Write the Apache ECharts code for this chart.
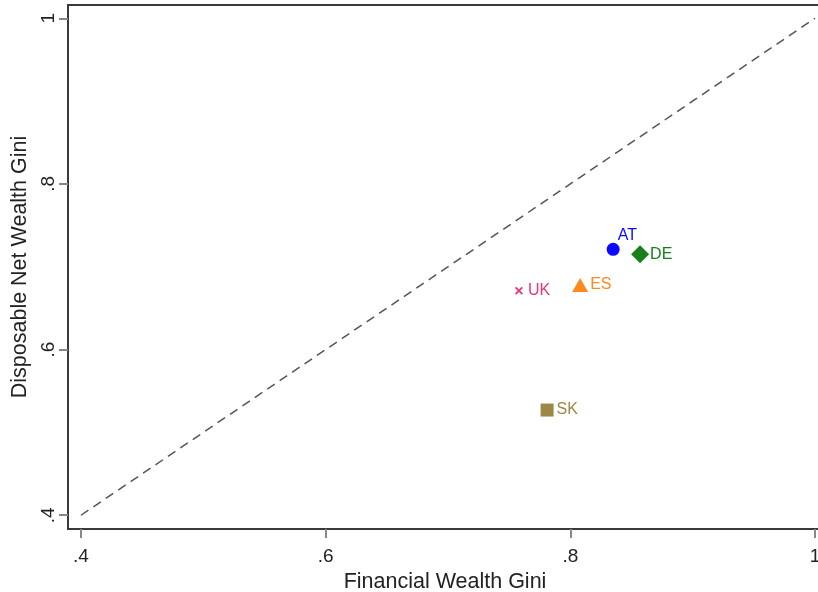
<!DOCTYPE html>
<html>
<head>
<meta charset="utf-8">
<script src="https://cdn.jsdelivr.net/npm/echarts@6/dist/echarts.min.js"></script>
<style>
  html, body { margin: 0; padding: 0; background: #fff; }
  #chart { width: 818px; height: 592px; }
</style>
</head>
<body>
<div id="chart"></div>
<script>
// Gini coefficients by country
const countries = ['AT', 'DE', 'ES', 'UK', 'SK'];
const financialGini = [0.835, 0.857, 0.808, 0.758, 0.781];
const netWealthGini = [0.721, 0.715, 0.678, 0.671, 0.527];

// Tick positions shared by both axes, and the 45-degree reference line ends
const tickValues = [0.4, 0.6, 0.8, 1];
const diagonal = [0.4, 1];

const FONT = '"Liberation Sans", Arial, sans-serif';
const crossPath = 'path://M0,1.6L1.6,0L5,3.4L8.4,0L10,1.6L6.6,5L10,8.4L8.4,10L5,6.6L1.6,10L0,8.4L3.4,5Z';

// Marker look per country
const markerStyle = {
  AT: { color: '#0a0aff', symbol: 'circle', size: 13, label: { position: 'right', distance: 0, offset: [-2, -14] } },
  DE: { color: '#18801a', symbol: 'diamond', size: 18, label: { position: 'right', distance: 1 } },
  ES: { color: '#ff8a1c', symbol: 'triangle', size: [16, 14], label: { position: 'right', distance: 2 } },
  UK: { color: '#e8347f', symbol: crossPath, size: 8, label: { position: 'right', distance: 5 } },
  SK: { color: '#9c8744', symbol: 'rect', size: 13, label: { position: 'right', distance: 3 } }
};

const fmt = v => {
  const r = Math.round(v * 10) / 10;
  return r === 1 ? '1' : String(r).replace(/^0/, '');
};

const points = countries.map((c, i) => {
  const s = markerStyle[c];
  return {
    name: c,
    value: [financialGini[i], netWealthGini[i]],
    symbol: s.symbol,
    symbolSize: s.size,
    itemStyle: { color: s.color, opacity: 1 },
    label: Object.assign({ show: true, formatter: '{b}', color: s.color, fontSize: 16, fontFamily: FONT }, s.label)
  };
});

const axisCommon = {
  type: 'value',
  nameLocation: 'middle',
  nameTextStyle: { fontSize: 21.5, color: '#222', fontFamily: FONT },
  axisLine: { show: true, lineStyle: { color: '#3a3a3a', width: 2 } },
  axisTick: { show: true, length: 9, lineStyle: { color: '#888', width: 2 }, customValues: tickValues },
  axisLabel: { fontSize: 19, color: '#222', fontFamily: FONT, customValues: tickValues, formatter: fmt, hideOverlap: false },
  splitLine: { show: false }
};

const chart = echarts.init(document.getElementById('chart'), null, { renderer: 'canvas' });
chart.setOption({
  animation: false,
  backgroundColor: '#fff',
  grid: {
    left: 68, right: -4, top: 5, bottom: 63,
    outerBoundsMode: 'none',
    containLabel: false,
    show: true, borderColor: '#3a3a3a', borderWidth: 2, backgroundColor: 'transparent'
  },
  xAxis: Object.assign({}, axisCommon, {
    name: 'Financial Wealth Gini',
    nameGap: 37,
    min: 0.3894, max: 1.0057,
    axisLabel: Object.assign({}, axisCommon.axisLabel, { margin: 18 })
  }),
  yAxis: Object.assign({}, axisCommon, {
    name: 'Disposable Net Wealth Gini',
    nameGap: 37,
    min: 0.3834, max: 1.016,
    axisLabel: Object.assign({}, axisCommon.axisLabel, { rotate: 90, margin: 10 })
  }),
  series: [
    {
      type: 'line',
      data: [[diagonal[0], diagonal[0]], [diagonal[1], diagonal[1]]],
      symbol: 'none',
      silent: true,
      lineStyle: { color: '#555', width: 1.5, type: [9, 6] },
      z: 1
    },
    {
      type: 'scatter',
      data: points,
      z: 3
    }
  ]
});
</script>
</body>
</html>
